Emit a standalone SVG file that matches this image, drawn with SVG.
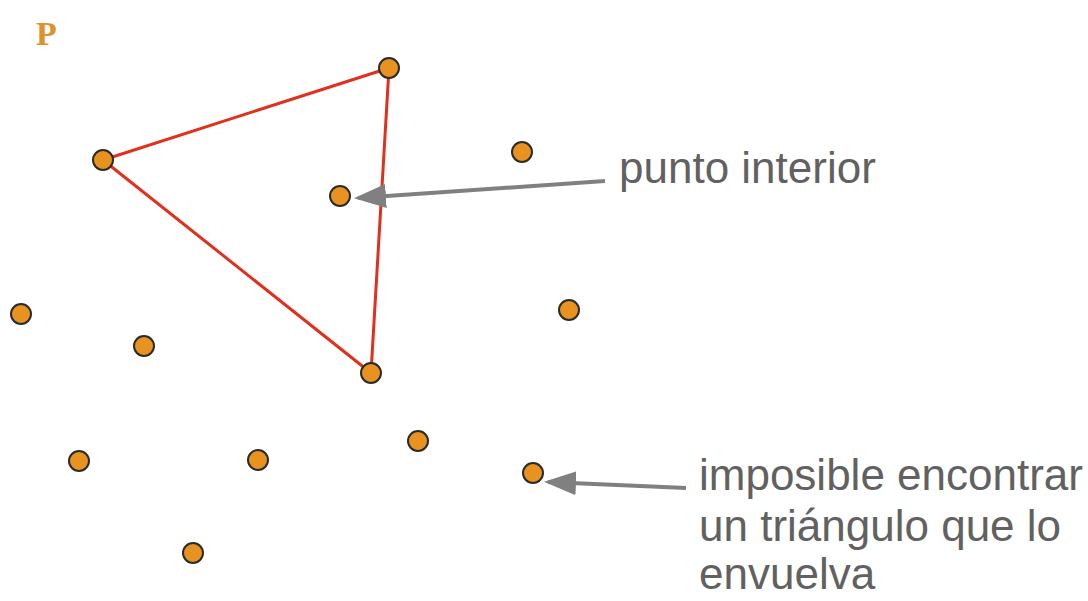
<svg xmlns="http://www.w3.org/2000/svg" width="1088" height="601" viewBox="0 0 1088 601">
<style>
.pt{fill:#e8921f;stroke:#2a2a2a;stroke-width:2}
.tri{fill:none;stroke:#e0301e;stroke-width:3;stroke-linejoin:round}
.arr{stroke:#808080;stroke-width:4;fill:none}
.lbl{font-family:"Liberation Sans",Arial,sans-serif;font-size:44px;fill:#616161}
</style>
<defs>
<marker id="ah" markerWidth="8" markerHeight="6" refX="7" refY="3" orient="auto" markerUnits="strokeWidth">
<path d="M0,0 L8,3 L0,6 z" fill="#808080"/>
</marker>
</defs>
<rect width="1088" height="601" fill="#ffffff"/>
<text x="36" y="45" font-family="Liberation Serif,serif" font-weight="bold" font-size="34" fill="#e0922a">P</text>
<g id="connectors">
<polygon class="tri" points="103,160 389,68 371,373"/>
<line class="arr" x1="605" y1="181" x2="358" y2="198" marker-end="url(#ah)"/>
<line class="arr" x1="686" y1="488" x2="548" y2="482" marker-end="url(#ah)"/>
</g>
<g id="n1"><circle class="pt" cx="103" cy="160" r="10"/></g>
<g id="n2"><circle class="pt" cx="389" cy="68" r="10"/></g>
<g id="n3"><circle class="pt" cx="522" cy="152" r="10"/></g>
<g id="n4"><circle class="pt" cx="340" cy="196" r="10"/></g>
<g id="n5"><circle class="pt" cx="21" cy="314" r="10"/></g>
<g id="n6"><circle class="pt" cx="144" cy="346" r="10"/></g>
<g id="n7"><circle class="pt" cx="569" cy="310" r="10"/></g>
<g id="n8"><circle class="pt" cx="371" cy="373" r="10"/></g>
<g id="n9"><circle class="pt" cx="79" cy="461" r="10"/></g>
<g id="n10"><circle class="pt" cx="258" cy="460" r="10"/></g>
<g id="n11"><circle class="pt" cx="418" cy="441" r="10"/></g>
<g id="n12"><circle class="pt" cx="533" cy="473" r="10"/></g>
<g id="n13"><circle class="pt" cx="193" cy="553" r="10"/></g>
<g id="label1"><text class="lbl" x="619" y="183">punto interior</text></g>
<g id="label2"><text class="lbl" x="699" y="490">imposible encontrar</text>
<text class="lbl" x="699" y="541">un triángulo que lo</text>
<text class="lbl" x="699" y="589">envuelva</text></g>
</svg>
